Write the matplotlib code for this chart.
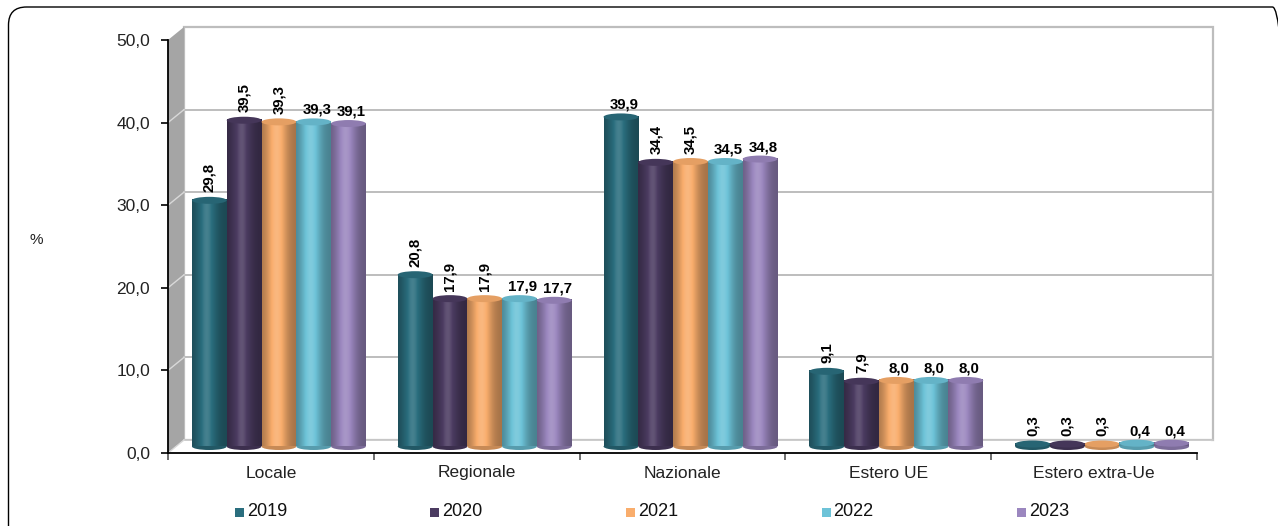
import numpy as np
import matplotlib
matplotlib.use("Agg")
import matplotlib.pyplot as plt
from matplotlib.patches import Ellipse, Polygon, Rectangle, FancyBboxPatch
from matplotlib.transforms import ScaledTranslation
from matplotlib.lines import Line2D

plt.rcParams["font.family"] = ["Liberation Sans", "DejaVu Sans"]

# ---- data -------------------------------------------------------------
categories = ["Locale", "Regionale", "Nazionale", "Estero UE", "Estero extra-Ue"]
years = ["2019", "2020", "2021", "2022", "2023"]
v2019 = [29.8, 20.8, 39.9, 9.1, 0.3]
v2020 = [39.5, 17.9, 34.4, 7.9, 0.3]
v2021 = [39.3, 17.9, 34.5, 8.0, 0.3]
v2022 = [39.3, 17.9, 34.5, 8.0, 0.4]
v2023 = [39.1, 17.7, 34.8, 8.0, 0.4]
series = [v2019, v2020, v2021, v2022, v2023]
yticks = [0, 10, 20, 30, 40, 50]
ytick_labels = ["0,0", "10,0", "20,0", "30,0", "40,0", "50,0"]

# ---- style ------------------------------------------------------------
colors = ["#2A6E7E", "#4B3B61", "#F9AD6C", "#6DC3D8", "#9B87BF"]
# orientation of the value labels (True = rotated 90 degrees), per year
vertical = [
    [True, True, False, True, True],
    [True, True, True, True, True],
    [True, True, True, False, True],
    [False, False, False, False, False],
    [False, False, False, False, False],
]
W, H, DPI = 1278, 526, 100
DX, DY = 16, 13          # depth of the 3-D box, pixels
BAR_W = 0.169            # bar width in category units
ELL_PX = 7               # height of the cylinder caps, pixels
LABEL_SIZE = 10.8

fig = plt.figure(figsize=(W / DPI, H / DPI), dpi=DPI)
ax = fig.add_axes([168 / W, 73 / H, 1029 / W, 413 / H])
ax.set_xlim(0, len(categories))
ax.set_ylim(yticks[0], yticks[-1])
ax.set_autoscale_on(False)
ax.patch.set_visible(False)

ax_w = ax.bbox.width
ax_h = ax.bbox.height
dxa, dya = DX / ax_w, DY / ax_h
ymax = yticks[-1]

# ---- walls and floor --------------------------------------------------
ax.add_patch(Rectangle((dxa, dya), 1, 1, transform=ax.transAxes, fc="white",
                       ec="#BDBDBD", lw=1.6, zorder=0.5, clip_on=False))
ax.add_patch(Polygon([(0, 0), (dxa, dya), (dxa, 1 + dya), (0, 1)],
                     transform=ax.transAxes, fc="#A5A5A5", ec="none",
                     zorder=0.6, clip_on=False))
ax.add_patch(Polygon([(0, 0), (1, 0), (1 + dxa, dya), (dxa, dya)],
                     transform=ax.transAxes, fc="white", ec="none",
                     zorder=0.6, clip_on=False))
ax.add_line(Line2D([dxa, 1 + dxa], [dya, dya], transform=ax.transAxes,
                   color="#C8C8C8", lw=1.3, zorder=0.7, clip_on=False))
ax.add_line(Line2D([0, dxa], [0, dya], transform=ax.transAxes,
                   color="#D8D8D8", lw=1.0, zorder=0.7, clip_on=False))
for t in yticks[1:-1]:
    yf = t / ymax
    ax.add_line(Line2D([dxa, 1 + dxa], [yf + dya, yf + dya],
                       transform=ax.transAxes, color="#BDBDBD", lw=1.4,
                       zorder=0.7, clip_on=False))
    ax.add_line(Line2D([0, dxa], [yf, yf + dya], transform=ax.transAxes,
                       color="#D9D9D9", lw=1.0, zorder=0.7, clip_on=False))

# ---- cylinders --------------------------------------------------------
t_half = ax.transData + ScaledTranslation(DX / 2 / DPI, DY / 2 / DPI,
                                          fig.dpi_scale_trans)
eh = ELL_PX * ymax / ax_h


def shade_strip(hex_color, n=64):
    base = np.array(matplotlib.colors.to_rgb(hex_color))
    tt = np.linspace(0, 1, n)
    s = 0.66 + 0.42 * np.exp(-((tt - 0.42) / 0.30) ** 2)
    out = np.empty((1, n, 3))
    for i, sv in enumerate(s):
        if sv <= 1:
            c = base * sv
        else:
            c = base + (1 - base) * (sv - 1) * 1.6
        out[0, i] = np.clip(c, 0, 1)
    return out


def darker(hex_color, f):
    return tuple(np.clip(np.array(matplotlib.colors.to_rgb(hex_color)) * f, 0, 1))


k = 0
for ci in range(len(categories)):
    for j, vals in enumerate(series):
        v = vals[ci]
        xc = ci + 0.5 + (j - 2) * BAR_W
        x0, x1 = xc - BAR_W / 2, xc + BAR_W / 2
        z = 2 + 0.01 * k
        k += 1
        col = colors[j]
        ax.add_patch(Ellipse((xc, 0), BAR_W, eh, transform=t_half,
                             fc=darker(col, 0.8), ec="none", zorder=z,
                             clip_on=False))
        ax.imshow(shade_strip(col), extent=[x0, x1, 0, v], aspect="auto",
                  interpolation="bilinear", transform=t_half, zorder=z + 0.001,
                  clip_on=False)
        ax.add_patch(Ellipse((xc, v), BAR_W, eh, transform=t_half,
                             fc=darker(col, 0.92), ec="none", zorder=z + 0.002,
                             clip_on=False))

        txt = f"{v:.1f}".replace(".", ",")
        if vertical[j][ci]:
            ax.annotate(txt, xy=(xc, v), xycoords=t_half, xytext=(0, 8),
                        textcoords="offset pixels", rotation=90, ha="center",
                        va="bottom", fontsize=LABEL_SIZE, fontweight="bold",
                        zorder=10)
        else:
            ax.annotate(txt, xy=(xc, v), xycoords=t_half, xytext=(3, 8),
                        textcoords="offset pixels", ha="center",
                        va="baseline", fontsize=LABEL_SIZE, fontweight="bold",
                        zorder=10)

ax.set_xlim(0, len(categories))
ax.set_ylim(yticks[0], yticks[-1])

# ---- axes -------------------------------------------------------------
for side in ("top", "right"):
    ax.spines[side].set_visible(False)
for side in ("left", "bottom"):
    ax.spines[side].set_color("black")
    ax.spines[side].set_linewidth(1.3)
    ax.spines[side].set_zorder(5)

ax.set_yticks(yticks, ytick_labels)
ax.tick_params(axis="y", length=5, width=1.2, pad=8, labelsize=12.5,
               labelcolor="#222222")
ax.set_xticks(np.arange(len(categories) + 1))
ax.set_xticklabels([])
ax.set_xticks(np.arange(len(categories)) + 0.5, categories, minor=True)
ax.tick_params(axis="x", which="major", length=5, width=1.2, color="#555555")
ax.tick_params(axis="x", which="minor", length=0, pad=9, labelsize=12.5,
               labelcolor="#222222")

fig.text(30 / W, 1 - 240 / H, "%", fontsize=11, ha="left", va="center",
         color="#222222")

# ---- legend -----------------------------------------------------------
for j, year in enumerate(years):
    xp = 235 + j * 195.5
    fig.add_artist(Rectangle((xp / W, (H - 517) / H), 9 / W, 9 / H,
                             transform=fig.transFigure, fc=colors[j],
                             ec="none"))
    fig.text((xp + 12) / W, 1 - 512 / H, year, fontsize=13, ha="left",
             va="center", color="#111111")

# ---- rounded frame ----------------------------------------------------
fig.add_artist(FancyBboxPatch((0.085, -0.4), 12.82, (H - 7) / DPI + 0.4,
                              boxstyle="round,pad=0,rounding_size=0.18",
                              transform=fig.dpi_scale_trans, fc="none",
                              ec="black", lw=1.0))

fig.savefig("out.png", dpi=DPI)
